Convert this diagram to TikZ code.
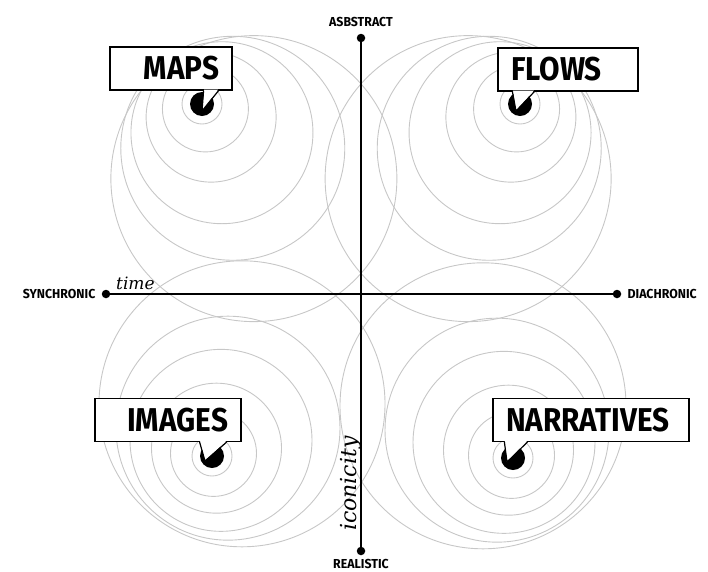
\documentclass[tikz,border=0pt]{standalone}
\usepackage{fontspec}
\usepackage{tikz}
\usetikzlibrary{calc,positioning}
\newfontfamily\tagfont[FakeStretch=0.9]{Fira Sans}
\newfontfamily\axisfont[FakeStretch=0.95]{Fira Sans}
\newfontfamily\notefont{DejaVu Serif}

\begin{document}
\begin{tikzpicture}[x=1pt, y=-1pt,
    ring/.style={draw=black!22, line width=0.9pt},
    axis/.style={draw=black, line width=2.6pt},
    axisend/.style={circle, fill=black, inner sep=0pt, minimum size=8.5pt},
    axislabel/.style={font=\axisfont\bfseries\fontsize{13}{13}\selectfont, inner sep=0pt},
    tagbox/.style={draw=black, line width=1.2pt, fill=white, minimum height=43pt,
      inner ysep=0pt, inner xsep=13pt,
      font=\tagfont\bfseries\fontsize{33}{33}\selectfont},
    blob/.style={circle, fill=black, inner sep=0pt, minimum size=24pt},
    tail/.style={draw=black, line width=1.2pt, line join=miter},
    note/.style={font=\notefont\itshape, inner sep=0pt}
  ]
  \useasboundingbox (0,0) rectangle (708,571);

  % centres of the four spots
  \coordinate (mapsdot) at (202,104);
  \coordinate (flowsdot) at (520,104);
  \coordinate (imagesdot) at (212,456);
  \coordinate (narrdot) at (513,458);

  % rings
  \foreach \d/\r in {0/20,6/43,16/65,35/91,54/112,91/143} {
    \draw[ring] ($(mapsdot)+(0.57*\d,0.82*\d)$) circle[radius=\r];
    \draw[ring] ($(flowsdot)+(-0.57*\d,0.82*\d)$) circle[radius=\r];
  }
  \foreach \d/\r in {0/20,3/43,9/65,18/91,32/112,60/143} {
    \draw[ring] ($(imagesdot)+(0.5*\d,-0.87*\d)$) circle[radius=\r];
    \draw[ring] ($(narrdot)+(-0.5*\d,-0.87*\d)$) circle[radius=\r];
  }

  % axes
  \node[axisend] (abstract) at (361,38) {};
  \node[axisend] (realistic) at (361,551) {};
  \node[axisend] (sync) at (106,294) {};
  \node[axisend] (diachr) at (617,294) {};
  \draw[axis] (abstract) -- (realistic);
  \draw[axis] (sync) -- (diachr);

  \node[axislabel, above=7pt of abstract] {ASBSTRACT};
  \node[axislabel, below=4pt of realistic] {REALISTIC};
  \node[axislabel, left=6pt of sync] {SYNCHRONIC};
  \node[axislabel, right=6pt of diachr] {DIACHRONIC};
  \node[note, font=\notefont\itshape\fontsize{17}{17}\selectfont,
    anchor=base west] (time) at (116,289) {time};
  \node[note, font=\notefont\itshape\fontsize{22}{22}\selectfont,
    rotate=90, anchor=base west] (iconicity) at (356,531) {iconicity};

  % spots
  \node[blob] (mapsblob) at (mapsdot) {};
  \node[blob] (flowsblob) at (flowsdot) {};
  \node[blob] (imagesblob) at (imagesdot) {};
  \node[blob] (narrblob) at (narrdot) {};

  % labels
  \node[tagbox, text width=96pt, align=right] (maps) at (171,68.5) {MAPS};
  \node[tagbox, text width=114pt, align=left] (flows) at (568,69.5) {FLOWS};
  \node[tagbox, text width=120pt, align=right] (images) at (168,420) {IMAGES};
  \node[tagbox, text width=170pt, align=left] (narratives) at (591,420) {NARRATIVES};

  % pointers from labels to spots
  \fill[white] ($(maps.south east)+(-28.5,-1)$) -- (202,111) -- ($(maps.south east)+(-14.5,-1)$) -- cycle;
  \draw[tail] ($(maps.south east)+(-29,0)$) -- (202,111) -- ($(maps.south east)+(-14,0)$);
  \fill[white] ($(flows.south west)+(15.5,-1)$) -- (516,111) -- ($(flows.south west)+(36.5,-1)$) -- cycle;
  \draw[tail] ($(flows.south west)+(15,0)$) -- (516,111) -- ($(flows.south west)+(37,0)$);
  \fill[white] ($(images.south east)+(-41.5,-1)$) -- (205,461) -- ($(images.south east)+(-15.5,-1)$) -- cycle;
  \draw[tail] ($(images.south east)+(-42,0)$) -- (205,461) -- ($(images.south east)+(-15,0)$);
  \fill[white] ($(narratives.south west)+(12.5,-1)$) -- (507,462) -- ($(narratives.south west)+(34.5,-1)$) -- cycle;
  \draw[tail] ($(narratives.south west)+(12,0)$) -- (507,462) -- ($(narratives.south west)+(35,0)$);
\end{tikzpicture}
\end{document}
